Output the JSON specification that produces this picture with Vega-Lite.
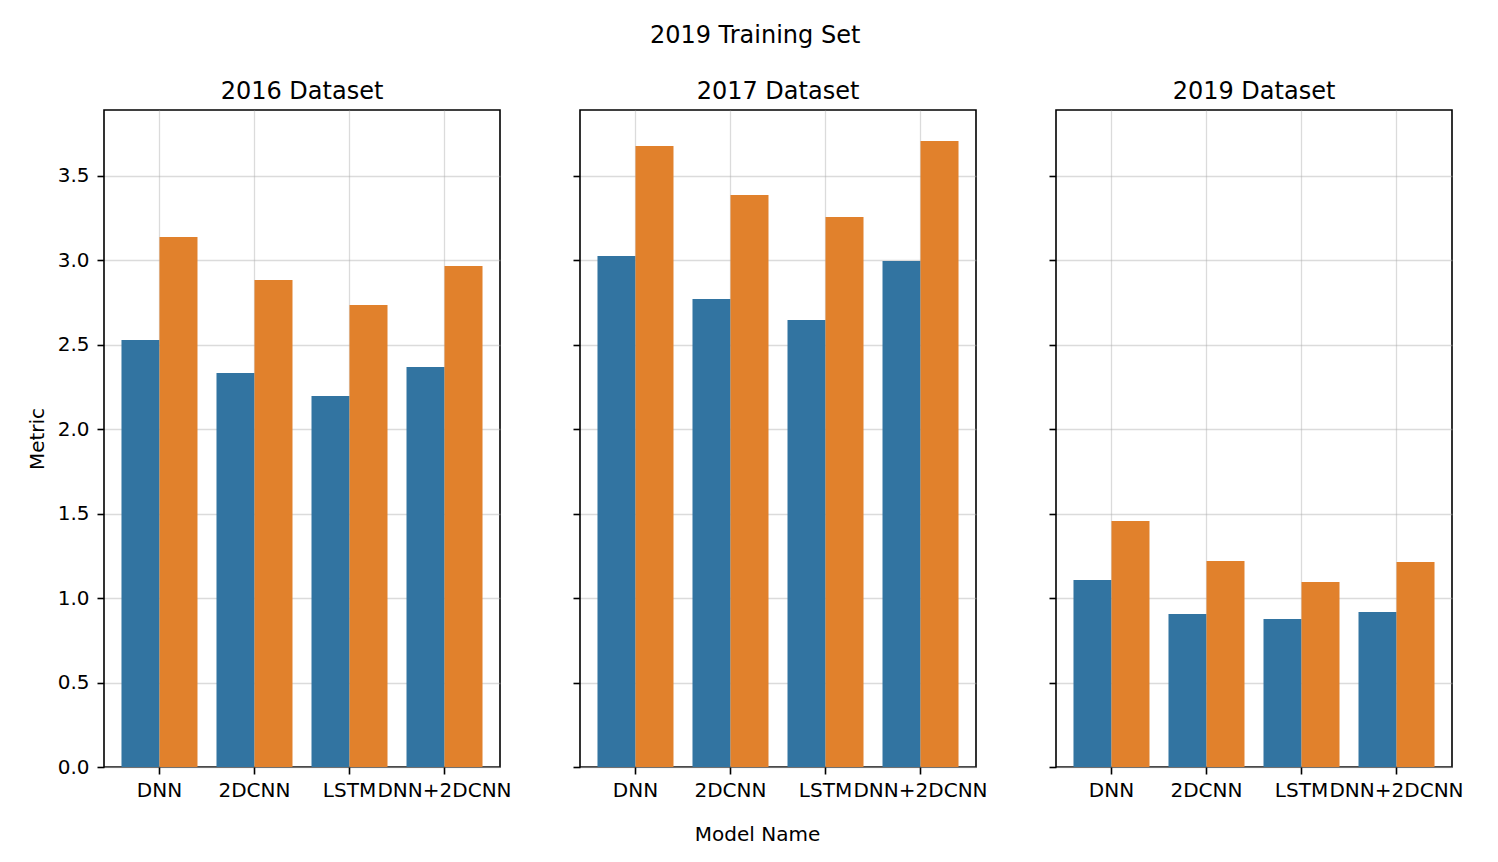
{
  "$schema": "https://vega.github.io/schema/vega-lite/v6.json",
  "background": "white",
  "padding": {"left": 26, "top": 24, "right": 0, "bottom": 0},
  "title": {"text": "2019 Training Set", "anchor": "middle", "fontSize": 24, "fontWeight": "normal", "offset": 31, "dx": 10},
  "data": {
    "values": [
      {"Dataset": "2016", "Model": "DNN", "Measure": "MAE", "Value": 2.528},
      {"Dataset": "2016", "Model": "DNN", "Measure": "RMSE", "Value": 3.138},
      {"Dataset": "2016", "Model": "2DCNN", "Measure": "MAE", "Value": 2.333},
      {"Dataset": "2016", "Model": "2DCNN", "Measure": "RMSE", "Value": 2.883},
      {"Dataset": "2016", "Model": "LSTM", "Measure": "MAE", "Value": 2.197},
      {"Dataset": "2016", "Model": "LSTM", "Measure": "RMSE", "Value": 2.735},
      {"Dataset": "2016", "Model": "DNN+2DCNN", "Measure": "MAE", "Value": 2.368},
      {"Dataset": "2016", "Model": "DNN+2DCNN", "Measure": "RMSE", "Value": 2.966},
      {"Dataset": "2017", "Model": "DNN", "Measure": "MAE", "Value": 3.025},
      {"Dataset": "2017", "Model": "DNN", "Measure": "RMSE", "Value": 3.677},
      {"Dataset": "2017", "Model": "2DCNN", "Measure": "MAE", "Value": 2.771},
      {"Dataset": "2017", "Model": "2DCNN", "Measure": "RMSE", "Value": 3.387},
      {"Dataset": "2017", "Model": "LSTM", "Measure": "MAE", "Value": 2.647},
      {"Dataset": "2017", "Model": "LSTM", "Measure": "RMSE", "Value": 3.256},
      {"Dataset": "2017", "Model": "DNN+2DCNN", "Measure": "MAE", "Value": 2.996},
      {"Dataset": "2017", "Model": "DNN+2DCNN", "Measure": "RMSE", "Value": 3.706},
      {"Dataset": "2019", "Model": "DNN", "Measure": "MAE", "Value": 1.107},
      {"Dataset": "2019", "Model": "DNN", "Measure": "RMSE", "Value": 1.456},
      {"Dataset": "2019", "Model": "2DCNN", "Measure": "MAE", "Value": 0.906},
      {"Dataset": "2019", "Model": "2DCNN", "Measure": "RMSE", "Value": 1.220},
      {"Dataset": "2019", "Model": "LSTM", "Measure": "MAE", "Value": 0.876},
      {"Dataset": "2019", "Model": "LSTM", "Measure": "RMSE", "Value": 1.095},
      {"Dataset": "2019", "Model": "DNN+2DCNN", "Measure": "MAE", "Value": 0.918},
      {"Dataset": "2019", "Model": "DNN+2DCNN", "Measure": "RMSE", "Value": 1.214}
    ]
  },
  "bounds": "flush",
  "spacing": 80,
  "config": {
    "font": "DejaVu Sans",
    "view": {"stroke": "black", "strokeWidth": 1.6},
    "axis": {
      "labelFontSize": 20,
      "titleFontSize": 20,
      "labelColor": "black",
      "titleColor": "black",
      "titleFontWeight": "normal",
      "tickColor": "black",
      "tickSize": 7,
      "tickWidth": 1.6,
      "domain": false,
      "gridColor": "#b0b0b0",
      "gridOpacity": 0.45,
      "gridWidth": 1.3,
      "zindex": 1
    },
    "title": {"fontSize": 24, "fontWeight": "normal", "color": "black"}
  },
  "hconcat": [
    {
      "width": 396,
      "height": 657,
      "title": {"text": "2016 Dataset", "offset": 6},
      "transform": [{"filter": "datum.Dataset == '2016'"}],
      "mark": {"type": "bar"},
      "encoding": {
        "x": {"field": "Model", "type": "nominal", "sort": ["DNN", "2DCNN", "LSTM", "DNN+2DCNN"],
          "scale": {"paddingInner": 0.2, "paddingOuter": 0.184},
          "axis": {"title": null, "labelAngle": 0, "grid": true, "bandPosition": 0.5, "labelPadding": 6}},
        "xOffset": {"field": "Measure", "type": "nominal", "sort": ["MAE", "RMSE"], "scale": {"paddingInner": 0, "paddingOuter": 0}},
        "y": {"field": "Value", "type": "quantitative", "scale": {"domain": [0, 3.89], "nice": false},
          "axis": {"title": "Metric", "values": [0, 0.5, 1, 1.5, 2, 2.5, 3, 3.5], "format": ".1f", "labelPadding": 8, "titlePadding": 10}},
        "color": {"field": "Measure", "type": "nominal", "scale": {"domain": ["MAE", "RMSE"], "range": ["#3274a1", "#e1812c"]}, "legend": null}
      }
    },
    {
      "width": 396,
      "height": 657,
      "title": {"text": "2017 Dataset", "offset": 6},
      "transform": [{"filter": "datum.Dataset == '2017'"}],
      "mark": {"type": "bar"},
      "encoding": {
        "x": {"field": "Model", "type": "nominal", "sort": ["DNN", "2DCNN", "LSTM", "DNN+2DCNN"],
          "scale": {"paddingInner": 0.2, "paddingOuter": 0.184},
          "axis": {"title": "Model Name", "labelAngle": 0, "grid": true, "bandPosition": 0.5, "labelPadding": 6, "titlePadding": 24, "titleX": 177}},
        "xOffset": {"field": "Measure", "type": "nominal", "sort": ["MAE", "RMSE"], "scale": {"paddingInner": 0, "paddingOuter": 0}},
        "y": {"field": "Value", "type": "quantitative", "scale": {"domain": [0, 3.89], "nice": false},
          "axis": {"title": null, "labels": false, "values": [0, 0.5, 1, 1.5, 2, 2.5, 3, 3.5]}},
        "color": {"field": "Measure", "type": "nominal", "scale": {"domain": ["MAE", "RMSE"], "range": ["#3274a1", "#e1812c"]}, "legend": null}
      }
    },
    {
      "width": 396,
      "height": 657,
      "title": {"text": "2019 Dataset", "offset": 6},
      "transform": [{"filter": "datum.Dataset == '2019'"}],
      "mark": {"type": "bar"},
      "encoding": {
        "x": {"field": "Model", "type": "nominal", "sort": ["DNN", "2DCNN", "LSTM", "DNN+2DCNN"],
          "scale": {"paddingInner": 0.2, "paddingOuter": 0.184},
          "axis": {"title": null, "labelAngle": 0, "grid": true, "bandPosition": 0.5, "labelPadding": 6}},
        "xOffset": {"field": "Measure", "type": "nominal", "sort": ["MAE", "RMSE"], "scale": {"paddingInner": 0, "paddingOuter": 0}},
        "y": {"field": "Value", "type": "quantitative", "scale": {"domain": [0, 3.89], "nice": false},
          "axis": {"title": null, "labels": false, "values": [0, 0.5, 1, 1.5, 2, 2.5, 3, 3.5]}},
        "color": {"field": "Measure", "type": "nominal", "scale": {"domain": ["MAE", "RMSE"], "range": ["#3274a1", "#e1812c"]}, "legend": null}
      }
    }
  ]
}
